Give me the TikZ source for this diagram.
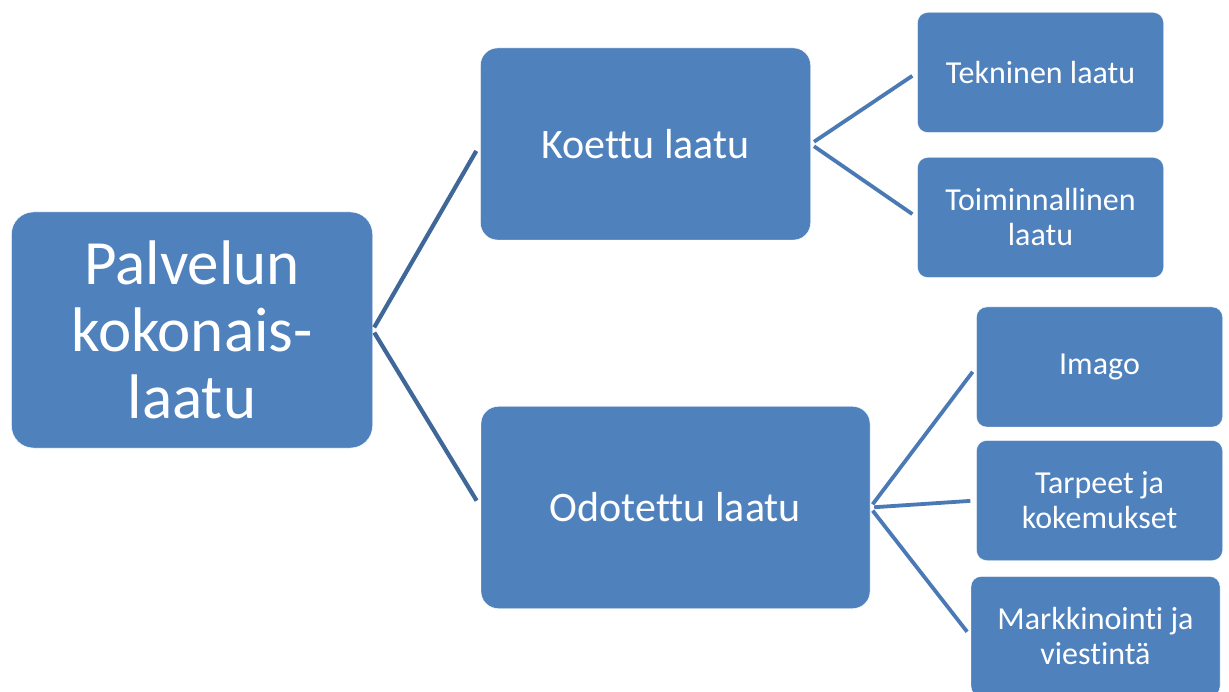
\documentclass[tikz,border=0pt]{standalone}
\usepackage{fontspec}
\setmainfont{Carlito}[Ligatures=NoCommon]
\usepackage{tikz}
\usetikzlibrary{positioning, calc}
\definecolor{boxblue}{HTML}{4F81BD}
\definecolor{linkdark}{HTML}{3F6898}
\definecolor{linkblue}{HTML}{4A7AB6}
\tikzset{
    topbox/.style={
        rectangle,
        fill=boxblue,
        draw=white,
        text=white,
        minimum width=361pt,
        minimum height=236pt,
        align=center,
        rounded corners=22pt,
        font=\fontsize{63}{67}\selectfont
    },
    midbox/.style={
        rectangle,
        fill=boxblue,
        draw=white,
        text=white,
        minimum height=192pt,
        align=center,
        rounded corners=17pt,
        font=\fontsize{42}{46}\selectfont
    },
    leafbox/.style={
        rectangle,
        fill=boxblue,
        draw=white,
        text=white,
        minimum width=246pt,
        minimum height=120pt,
        align=center,
        rounded corners=10pt,
        font=\fontsize{32}{35}\selectfont
    },
    link/.style={
        draw=linkdark,
        line width=4.2pt,
        shorten <=3pt,
        shorten >=8pt
    },
    sublink/.style={
        draw=linkblue,
        line width=3.8pt,
        shorten <=4pt,
        shorten >=6pt
    }
}
\begin{document}
\begin{tikzpicture}[x=1pt, y=-1pt]
    \useasboundingbox (0,0) rectangle (1229,692);
    \clip (0,0) rectangle (1229,692);

    \node[topbox] (total) at (192,330) {Palvelun\\kokonais-\\laatu};
    \node[midbox, minimum width=330pt] (koettu) at (645.5,144) {Koettu laatu};
    \node[midbox, minimum width=389pt, minimum height=202pt] (odotettu) at (675.5,507.5) {Odotettu laatu};

    \node[leafbox] (tekninen) at (1040.5,72.5) {Tekninen laatu};
    \node[leafbox] (toiminnallinen) at (1040.5,217.5) {Toiminnallinen\\laatu};
    \node[leafbox] (imago) at (1099.5,367) {Imago};
    \node[leafbox] (tarpeet) at (1099.5,500.5) {Tarpeet ja\\kokemukset};
    \node[leafbox, minimum width=249pt] (markkinointi) at (1095.5,636.5) {Markkinointi ja\\viestintä};

    \draw[link] (total.east) -- (koettu.west);
    \draw[link] (total.east) -- (odotettu.west);

    \draw[sublink] (koettu.east) -- (tekninen.west);
    \draw[sublink] (koettu.east) -- (toiminnallinen.west);

    \draw[sublink] (odotettu.east) -- (imago.west);
    \draw[sublink] (odotettu.east) -- (tarpeet.west);
    \draw[sublink] (odotettu.east) -- (markkinointi.west);
\end{tikzpicture}
\end{document}
